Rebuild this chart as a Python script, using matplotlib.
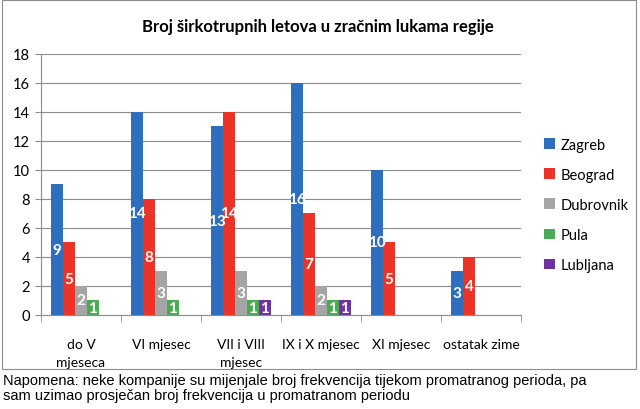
import numpy as np
import matplotlib.pyplot as plt
from matplotlib.patches import Rectangle

# data
categories = ['do V\nmjeseca', 'VI mjesec', 'VII i VIII\nmjesec', 'IX i X mjesec', 'XI mjesec', 'ostatak zime']
zagreb = [9, 14, 13, 16, 10, 3]
beograd = [5, 8, 14, 7, 5, 4]
dubrovnik = [2, 3, 3, 2, None, None]
pula = [1, 1, 1, 1, None, None]
lubljana = [None, None, 1, 1, None, None]
series = ['Zagreb', 'Beograd', 'Dubrovnik', 'Pula', 'Lubljana']
colors = ['#2e6ebf', '#ec3328', '#a5a5a5', '#4aab55', '#7232a0']

plt.rcParams['font.family'] = ['Lato', 'DejaVu Sans']

fig = plt.figure(figsize=(6.4, 4.1), dpi=100)
ax = fig.add_axes([0.064, 0.2293, 0.750, 0.6366])

x = np.arange(len(categories))
w = 0.15
for i, (name, vals, c) in enumerate(zip(series, [zagreb, beograd, dubrovnik, pula, lubljana], colors)):
    v = np.array([np.nan if a is None else a for a in vals], dtype=float)
    pos = x + (i - 2) * w
    ax.bar(pos, v, w, color=c, label=name, zorder=3)
    for p, a in zip(pos, v):
        if not np.isnan(a):
            ax.text(p, a / 2, '%d' % a, ha='center', va='center', color='white',
                    fontsize=11, fontweight='bold', zorder=4)

ax.set_xlim(-0.5, len(categories) - 0.5)
ax.set_ylim(0, 18)
ax.set_yticks(range(0, 19, 2))
ax.grid(axis='y', color='#8c8c8c', linewidth=0.8, zorder=0)
ax.set_xticks(x)
ax.set_xticklabels(categories, fontsize=10, linespacing=1.65)
ax.set_xticks(np.arange(-0.5, len(categories)), minor=True)
ax.tick_params(axis='x', which='major', length=0, pad=16.5)
ax.tick_params(axis='x', which='minor', length=5, color='#8c8c8c')
ax.tick_params(axis='y', length=4, color='#8c8c8c', labelsize=10.5, pad=4)
for s in ['top', 'right']:
    ax.spines[s].set_visible(False)
ax.spines['left'].set_color('#8c8c8c')
ax.spines['bottom'].set_color('#8c8c8c')

fig.legend(loc='upper left', bbox_to_anchor=(0.83, 0.694), frameon=False,
           fontsize=10.5, handlelength=0.7, handleheight=0.7, handletextpad=0.4,
           labelspacing=1.1)

fig.text(0.496, 0.934, 'Broj širkotrupnih letova u zračnim lukama regije',
         ha='center', va='center', fontsize=12, fontweight='bold')

fig.patches.append(Rectangle((0.003, 0.097), 0.991, 0.9, transform=fig.transFigure,
                             fill=False, edgecolor='#8c8c8c', linewidth=0.8))

fig.text(0.005, 0.052, 'Napomena: neke kompanije su mijenjale broj frekvencija tijekom promatranog perioda, pa\n'
         'sam uzimao prosječan broj frekvencija u promatranom periodu',
         ha='left', va='center', fontsize=10.5, family='Liberation Sans', linespacing=1.05)

fig.savefig('out.png', dpi=100)
